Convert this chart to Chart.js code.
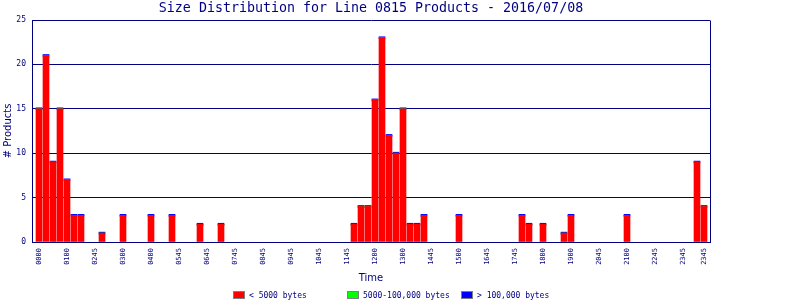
<!DOCTYPE html>
<html>
<head>
<meta charset="utf-8">
<title>Size Distribution for Line 0815 Products</title>
<script src="https://cdn.jsdelivr.net/npm/chart.js@4.4.1/dist/chart.umd.min.js"></script>
<style>
  html, body { margin: 0; padding: 0; background: #fff; }
</style>
</head>
<body>
<canvas id="sizeChart" width="800" height="300"></canvas>
<script>
// slot (0..95) of each bar
const slots = [0, 1, 2, 3, 4, 5, 6, 9, 12, 16, 19, 23, 26, 45, 46, 47, 48, 49, 50, 51, 52, 53, 54, 55, 60, 69, 70, 72, 75, 76, 84, 94, 95];
// # products per slot and size class
const smallCounts  = [15, 21, 9, 15, 7, 3, 3, 1, 3, 3, 3, 2, 2, 2, 4, 4, 16, 23, 12, 10, 15, 2, 2, 3, 3, 3, 2, 2, 1, 3, 3, 9, 4];
const mediumCounts = [0, 0, 0, 0, 0, 0, 0, 0, 0, 0, 0, 0, 0, 0, 0, 0, 0, 0, 0, 0, 0, 0, 0, 0, 0, 0, 0, 0, 0, 0, 0, 0, 0];
const largeCounts  = [0, 0, 0, 0, 0, 0, 0, 0, 0, 0, 0, 0, 0, 0, 0, 0, 0, 0, 0, 0, 0, 0, 0, 0, 0, 0, 0, 0, 0, 0, 0, 0, 0];
const seriesNames = ["< 5000 bytes", "5000-100,000 bytes", "> 100,000 bytes"];

// x labels (as printed on the original, incl. the odd ones)
const tickSlots  = [0, 4, 8, 12, 16, 20, 24, 28, 32, 36, 40, 44, 48, 52, 56, 60, 64, 68, 72, 76, 80, 84, 88, 92, 95];
const tickLabels = ["0000", "0100", "0245", "0300", "0400", "0545", "0645", "0745", "0845", "0945", "1045", "1145",
                    "1200", "1300", "1445", "1500", "1645", "1745", "1800", "1900", "2045", "2100", "2245", "2345", "2345"];

const NAVY = "#000080";
const MONO = "'DejaVu Sans Mono', monospace";
const SANS = "'DejaVu Sans', sans-serif";

function points(values) {
  return slots.map((s, i) => ({ x: s, y: values[i] }));
}

// rechter rand van het plotvlak
const framePlugin = {
  id: "frame",
  afterDraw(chart) {
    const a = chart.chartArea;
    const ctx = chart.ctx;
    ctx.save();
    ctx.strokeStyle = NAVY;
    ctx.lineWidth = 1;
    ctx.beginPath();
    ctx.moveTo(Math.round(a.right) + 0.5, Math.round(a.top) + 0.5);
    ctx.lineTo(Math.round(a.right) + 0.5, Math.round(a.bottom) + 0.5);
    ctx.stroke();
    ctx.restore();
  }
};

// legenda met vaste kolommen, zoals het origineel
const legendPlugin = {
  id: "columnLegend",
  afterDraw(chart) {
    const ctx = chart.ctx;
    ctx.save();
    ctx.font = "8px " + MONO;
    ctx.textBaseline = "middle";
    chart.data.datasets.forEach((ds, i) => {
      const x = 233 + i * 114;
      ctx.fillStyle = ds.backgroundColor;
      ctx.fillRect(x, 291, 12, 8);
      ctx.strokeStyle = "#808080";
      ctx.strokeRect(x + 0.5, 291.5, 11, 7);
      ctx.fillStyle = NAVY;
      ctx.fillText(ds.label, x + 16, 295.5);
    });
    ctx.restore();
  }
};

new Chart(document.getElementById("sizeChart"), {
  type: "bar",
  data: {
    datasets: [
      { label: seriesNames[0], data: points(smallCounts), backgroundColor: "#FF0000" },
      { label: seriesNames[1], data: points(mediumCounts), backgroundColor: "#00FF00" },
      { label: seriesNames[2], data: points(largeCounts), backgroundColor: "#0000FF", minBarLength: 2 }
    ]
  },
  options: {
    responsive: false,
    animation: false,
    datasets: { bar: { barThickness: 6, borderWidth: 0 } },
    layout: { padding: { left: 0, right: 90, top: 0, bottom: 14 } },
    plugins: {
      legend: { display: false },
      tooltip: { enabled: false },
      title: {
        display: true,
        fullSize: false,
        text: "Size Distribution for Line 0815 Products - 2016/07/08",
        color: NAVY,
        font: { family: MONO, size: 13.3, weight: "normal", lineHeight: "16px" },
        padding: { top: 1, bottom: 3 }
      }
    },
    scales: {
      x: {
        type: "linear",
        stacked: true,
        offset: false,
        min: -1,
        max: 96 - 1 / 7, // 7px per slot over the 678px plot, so bar edges land on whole pixels
        grid: { display: false, drawTicks: false, tickLength: 0 },
        border: { color: NAVY, width: 1 },
        afterBuildTicks: (scale) => { scale.ticks = tickSlots.map(v => ({ value: v })); },
        afterFit: (scale) => { scale.height = 44; },
        ticks: {
          autoSkip: false,
          minRotation: 90,
          maxRotation: 90,
          padding: 6,
          color: NAVY,
          font: { family: MONO, size: 7 },
          callback: (value, index) => tickLabels[index]
        },
        title: {
          display: true,
          text: "Time",
          color: NAVY,
          font: { family: SANS, size: 10, lineHeight: "12px" },
          padding: { top: 0, bottom: 2 }
        }
      },
      y: {
        stacked: true,
        min: 0,
        max: 25,
        grid: { color: NAVY, lineWidth: 1, drawTicks: false, tickLength: 0 },
        border: { color: NAVY, width: 1 },
        afterFit: (scale) => { scale.width = 32; },
        ticks: {
          stepSize: 5,
          padding: 6,
          color: NAVY,
          font: { family: MONO, size: 8 }
        },
        title: {
          display: true,
          text: "# Products",
          color: NAVY,
          font: { family: SANS, size: 10, lineHeight: "12px" },
          padding: { top: 2, bottom: 0 }
        }
      }
    }
  },
  plugins: [framePlugin, legendPlugin]
});
</script>
</body>
</html>
